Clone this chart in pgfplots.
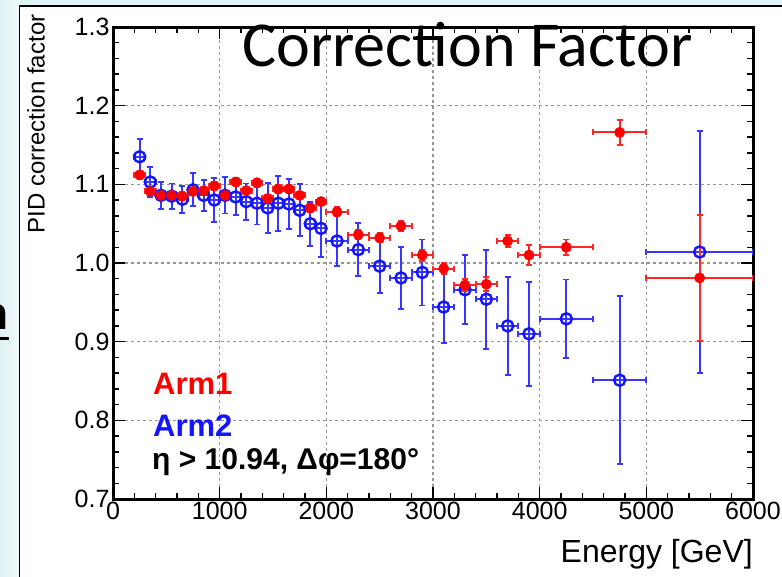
\documentclass[border=0pt]{standalone}
\usepackage{pgfplots}
\pgfplotsset{compat=1.18}
\usepackage{pgfplotstable}
\usepackage{fontspec}
\setmainfont{Liberation Sans}
\newfontfamily\calibri{Carlito}
\definecolor{slidebg}{RGB}{222,242,245}
\definecolor{gridgray}{RGB}{150,150,150}
\definecolor{armred}{RGB}{255,0,0}
\definecolor{armblue}{RGB}{20,20,255}

\pgfplotstableread{
x y ex ey
250 1.112 50 0.005
350 1.091 50 0.005
450 1.086 50 0.005
550 1.086 50 0.005
650 1.085 50 0.005
750 1.091 50 0.005
850 1.092 50 0.005
950 1.098 50 0.005
1050 1.086 50 0.005
1150 1.103 50 0.005
1250 1.092 50 0.005
1350 1.102 50 0.005
1450 1.082 50 0.005
1550 1.094 50 0.005
1650 1.094 50 0.005
1750 1.086 50 0.005
1850 1.070 50 0.005
1950 1.078 50 0.005
2100 1.065 100 0.006
2300 1.036 100 0.006
2500 1.032 100 0.006
2700 1.047 100 0.006
2900 1.010 100 0.007
3100 0.993 100 0.007
3300 0.972 100 0.008
3500 0.973 100 0.009
3700 1.028 100 0.008
3900 1.010 100 0.013
4250 1.020 250 0.010
4750 1.166 250 0.016
5500 0.981 500 0.080
}\armone

\pgfplotstableread{
x y ex ey
250 1.135 50 0.023
350 1.103 50 0.019
450 1.086 50 0.017
550 1.085 50 0.016
650 1.081 50 0.017
750 1.093 50 0.021
850 1.086 50 0.020
950 1.080 50 0.028
1050 1.086 50 0.023
1150 1.084 50 0.023
1250 1.078 50 0.023
1350 1.076 50 0.027
1450 1.070 50 0.032
1550 1.076 50 0.035
1650 1.075 50 0.032
1750 1.067 50 0.033
1850 1.050 50 0.028
1950 1.044 50 0.036
2100 1.028 100 0.032
2300 1.017 100 0.034
2500 0.996 100 0.034
2700 0.981 100 0.039
2900 0.988 100 0.042
3100 0.944 100 0.046
3300 0.966 100 0.044
3500 0.954 100 0.063
3700 0.920 100 0.062
3900 0.910 100 0.066
4250 0.929 250 0.050
4750 0.851 250 0.107
5500 1.014 500 0.154
}\armtwo

\begin{document}
\begin{tikzpicture}[x=1pt,y=1pt]
\useasboundingbox (0,0) rectangle (782,576);
\clip (0,0) rectangle (782,576);
\fill[slidebg] (0,0) rectangle (782,576);
\shade[left color=slidebg, right color=white!60!slidebg] (0,0) rectangle (20,576);
% slide fragment
\node[anchor=base east, inner sep=0pt, font=\fontsize{46}{46}\selectfont\bfseries] at (8.5,246) {n};
\draw[line width=3pt] (0,237.5) -- (9,237.5);
% chart frame
\draw[fill=white, line width=1.8pt] (19.5,-5) rectangle (800,570);

\begin{axis}[
  at={(113pt,77pt)}, anchor=south west,
  scale only axis, width=640pt, height=472pt,
  xmin=0, xmax=6000, ymin=0.7, ymax=1.3,
  xtick={0,1000,2000,3000,4000,5000,6000},
  xticklabels={0,1000,2000,3000,4000,5000,6000},
  ytick={0.7,0.8,0.9,1.0,1.1,1.2,1.3},
  yticklabels={0.7,0.8,0.9,1.0,1.1,1.2,1.3},
  minor x tick num=4, minor y tick num=4,
  tick pos=both, tick align=inside,
  major tick length=12pt, minor tick length=6pt,
  every tick/.style={black, line width=1.5pt},
  axis line style={line width=3pt},
  ticklabel style={font=\fontsize{25}{25}\selectfont},
  grid=major,
  major grid style={gridgray, line width=1.3pt, dash pattern=on 3pt off 3pt},
  clip=true,
]
\addplot[armblue, only marks, mark=o, mark size=5.6pt,
  mark options={solid, fill=white, line width=2.4pt},
  error bars/.cd, x dir=both, x explicit, y dir=both, y explicit,
  error bar style={line width=2pt, armblue!85},
  error mark options={rotate=90, mark size=3pt, line width=1.8pt, armblue!85}]
  table[x=x, y=y, x error=ex, y error=ey] {\armtwo};
\addplot[armred, only marks, mark=*, mark size=5.2pt,
  mark options={solid, fill=armred},
  error bars/.cd, x dir=both, x explicit, y dir=both, y explicit,
  error bar style={line width=2pt, armred!85},
  error mark options={rotate=90, mark size=3pt, line width=1.8pt, armred!85}]
  table[x=x, y=y, x error=ex, y error=ey] {\armone};
\end{axis}

% axis titles
\node[rotate=90, font=\fontsize{24}{24}\selectfont] at (36,452) {PID correction factor};
\node[anchor=base east, inner sep=0pt, font=\fontsize{32}{32}\selectfont] at (753,14) {Energy [GeV]};
% plot title
\node[anchor=base west, inner sep=0pt, font=\calibri\fontsize{64}{64}\selectfont] at (242,509) {Correction Factor};
% in-plot legend
\node[anchor=base west, inner sep=0pt, text=armred, font=\fontsize{31}{31}\selectfont\bfseries] at (153,181) {Arm1};
\node[anchor=base west, inner sep=0pt, text=armblue, font=\fontsize{31}{31}\selectfont\bfseries] at (153,139) {Arm2};
\node[anchor=base west, inner sep=0pt, font=\fontsize{30}{30}\selectfont\bfseries] at (152,106) {η > 10.94,  Δφ=180°};
\end{tikzpicture}
\end{document}
